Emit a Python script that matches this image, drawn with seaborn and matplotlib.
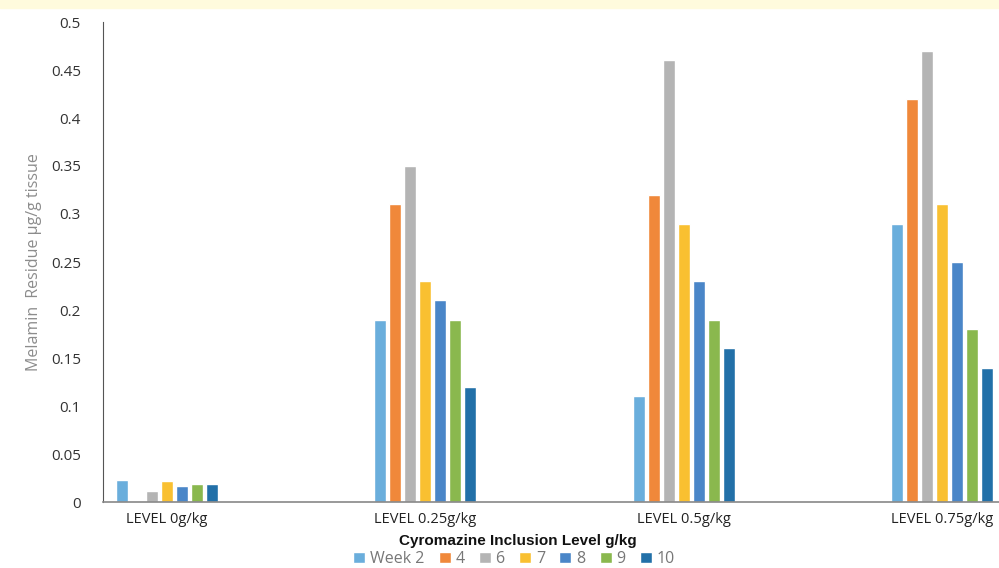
import pandas as pd
import matplotlib
matplotlib.use("Agg")
import matplotlib.pyplot as plt
import seaborn as sns

levels = ["LEVEL 0g/kg", "LEVEL 0.25g/kg", "LEVEL 0.5g/kg", "LEVEL 0.75g/kg"]
weeks = ["Week 2", "4", "6", "7", "8", "9", "10"]
week2 = [0.023, 0.19, 0.11, 0.29]
week4 = [0.0, 0.31, 0.32, 0.42]
week6 = [0.011, 0.35, 0.46, 0.47]
week7 = [0.022, 0.23, 0.29, 0.31]
week8 = [0.017, 0.21, 0.23, 0.25]
week9 = [0.019, 0.19, 0.19, 0.18]
week10 = [0.019, 0.12, 0.16, 0.14]
colors = ["#6AAEDC", "#F0883A", "#B4B4B4", "#F9C031", "#4A86C8", "#8AB84E", "#2270A8"]

series = [week2, week4, week6, week7, week8, week9, week10]
rows = []
for w, vals in zip(weeks, series):
    for lv, v in zip(levels, vals):
        rows.append({"level": lv, "week": w, "value": v})
df = pd.DataFrame(rows)

sns.set_style("white")
plt.rcParams["font.family"] = ["Open Sans", "DejaVu Sans"]

fig = plt.figure(figsize=(9.99, 5.68), dpi=100)
fig.patches.append(plt.Rectangle((0, 1 - 8 / 568), 1, 8 / 568, transform=fig.transFigure,
                                 color="#FFFBDD", zorder=0))
ax = fig.add_axes([103 / 999, 66 / 568, 1 - 103 / 999, 480 / 568])

sns.barplot(data=df, x="level", y="value", hue="week", hue_order=weeks,
            palette=colors, width=0.405, gap=0.2, ax=ax, legend=True,
            saturation=1)

ax.set_xlim(-0.247, 3.22)
ax.set_ylim(0, 0.5)
yt = [i * 0.05 for i in range(11)]
ax.set_yticks(yt)
ax.set_yticklabels(["0", "0.05", "0.1", "0.15", "0.2", "0.25", "0.3", "0.35", "0.4", "0.45", "0.5"])
ax.tick_params(axis="y", labelsize=11, colors="#333333", length=0, pad=16)
ax.tick_params(axis="x", labelsize=10.5, colors="#222222", length=0, pad=7)
for s in ["top", "right"]:
    ax.spines[s].set_visible(False)
ax.spines["left"].set_color("#555555")
ax.spines["bottom"].set_color("#888888")
ax.spines["bottom"].set_linewidth(1.2)

ax.set_ylabel("Melamin  Residue µg/g tissue", fontsize=11.5, color="#8C8C8C", labelpad=6)
ax.set_xlabel("")
fig.text(518 / 999, 1 - 541 / 568, "Cyromazine Inclusion Level g/kg", ha="center", va="center",
         fontsize=11, fontweight="bold", family=["Liberation Sans", "DejaVu Sans"], color="#111111")

h, l = ax.get_legend_handles_labels()
ax.legend_.remove()
fig.legend(h, l, loc="center", bbox_to_anchor=(514 / 999, 1 - 559 / 568), ncol=7, frameon=False,
           fontsize=11.5, handlelength=0.75, handleheight=0.75, handletextpad=0.3, columnspacing=0.9,
           labelcolor="#777777", borderaxespad=0, borderpad=0)

fig.savefig("out.png", dpi=100)
